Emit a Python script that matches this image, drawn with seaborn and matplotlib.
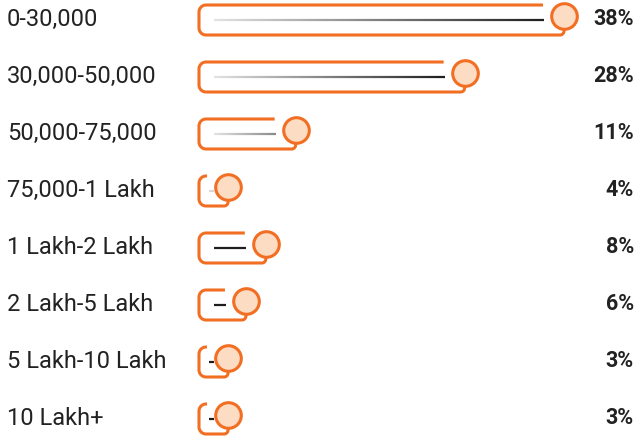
import numpy as np
import pandas as pd
import matplotlib
matplotlib.use("Agg")
import matplotlib.pyplot as plt
from matplotlib.collections import LineCollection
from matplotlib.colors import LinearSegmentedColormap
import seaborn as sns

# Income bands and share of respondents (%)
categories = ["0-30,000", "30,000-50,000", "50,000-75,000", "75,000-1 Lakh",
              "1 Lakh-2 Lakh", "2 Lakh-5 Lakh", "5 Lakh-10 Lakh", "10 Lakh+"]
shares = [38, 28, 11, 4, 8, 6, 3, 3]
share_labels = ["38%", "28%", "11%", "4%", "8%", "6%", "3%", "3%"]

ORANGE = "#F26E22"
PEACH = "#FDDCC4"
TEXT = "#222222"

sns.set_theme(style="white")
plt.rcParams["font.family"] = ["Roboto", "DejaVu Sans"]

W, H, DPI = 637, 436, 100
fig = plt.figure(figsize=(W / DPI, H / DPI), dpi=DPI)
ax = fig.add_axes([0, 0, 1, 1])

# pixel geometry of the value scale
X0_PX, PX_PER_PCT = 186.3, 9.94
ROW0_PX, ROW_PX = 19.0, 57.0
ax.set_xlim((0 - X0_PX) / PX_PER_PCT, (W - X0_PX) / PX_PER_PCT)
ax.set_ylim((H - ROW0_PX) / ROW_PX, (0 - ROW0_PX) / ROW_PX)
ax.axis("off")

def dx(px):
    return px / PX_PER_PCT

def dy(py):
    return py / ROW_PX

MIN_PCT = 4.2          # shortest drawn marker so the knob clears the bracket
LEFT_PCT = (199 - X0_PX) / PX_PER_PCT
INNER_START = (214 - X0_PX) / PX_PER_PCT

def arc(cx, cy, r, a0, a1, n=12):
    t = np.radians(np.linspace(a0, a1, n))
    return cx + dx(r) * np.cos(t), cy + dy(r) * np.sin(t)

knob_x = [max(v, MIN_PCT) for v in shares]
rows = np.arange(len(categories))

# line styles for the inner track
gray_grad = LinearSegmentedColormap.from_list("track", ["#e2e2e2", "#1e1e1e"])
grad_span = {0: (0.0, 1.0), 1: (0.0, 1.0), 2: (0.0, 0.45)}
solid = {3: "#d8d8d8"}

for i, (x, c) in enumerate(zip(knob_x, rows)):
    top, bot = c + dy(-14), c + dy(16)
    r, r2, R = 7, 4, 12
    xs, ys = [], []
    # top edge from near the knob towards the left corner
    xs += [x - dx(21), LEFT_PCT + dx(r)]
    ys += [top, top]
    ax_, ay_ = arc(LEFT_PCT + dx(r), top + dy(r), r, 270, 180)
    xs += list(ax_); ys += list(ay_)
    ax_, ay_ = arc(LEFT_PCT + dx(r), bot - dy(r), r, 180, 90)
    xs += list(ax_); ys += list(ay_)
    ax_, ay_ = arc(x - dx(r2), bot - dy(r2), r2, 90, 0)
    xs += list(ax_); ys += list(ay_)
    xs += [x]; ys += [c + dy(-3) + dy(R)]
    ax.plot(xs, ys, color=ORANGE, lw=2.2, solid_capstyle="butt", zorder=2)

    # inner track
    y_in = c + dy(1)
    end = x - dx(20)
    if end <= INNER_START:
        x_a, x_b = INNER_START - dx(5), INNER_START
    else:
        x_a, x_b = INNER_START, end
    if i in grad_span:
        n = 80
        px = np.linspace(x_a, x_b, n + 1)
        segs = [[(px[k], y_in), (px[k + 1], y_in)] for k in range(n)]
        lo, hi = grad_span[i]
        cols = gray_grad(np.linspace(lo, hi, n))
        ax.add_collection(LineCollection(segs, colors=cols, linewidths=1.6,
                                         capstyle="butt", zorder=2))
    else:
        ax.plot([x_a, x_b], [y_in, y_in], color=solid.get(i, "#1e1e1e"),
                lw=1.6, solid_capstyle="butt", zorder=2)

knobs = pd.DataFrame({"share": knob_x, "row": rows + dy(-3)})
sns.scatterplot(data=knobs, x="share", y="row", ax=ax, s=340, color=PEACH,
                edgecolor=ORANGE, linewidth=2.2, zorder=3, legend=False)

for c, name, lab in zip(rows, categories, share_labels):
    ax.text(dx(7 - X0_PX), c, name, ha="left", va="center",
            fontsize=17, color=TEXT)
    ax.text(dx(634 - X0_PX), c, lab, ha="right", va="center",
            fontsize=15.5, fontweight="bold", color=TEXT)

fig.savefig("out.png", dpi=DPI, facecolor="white")
